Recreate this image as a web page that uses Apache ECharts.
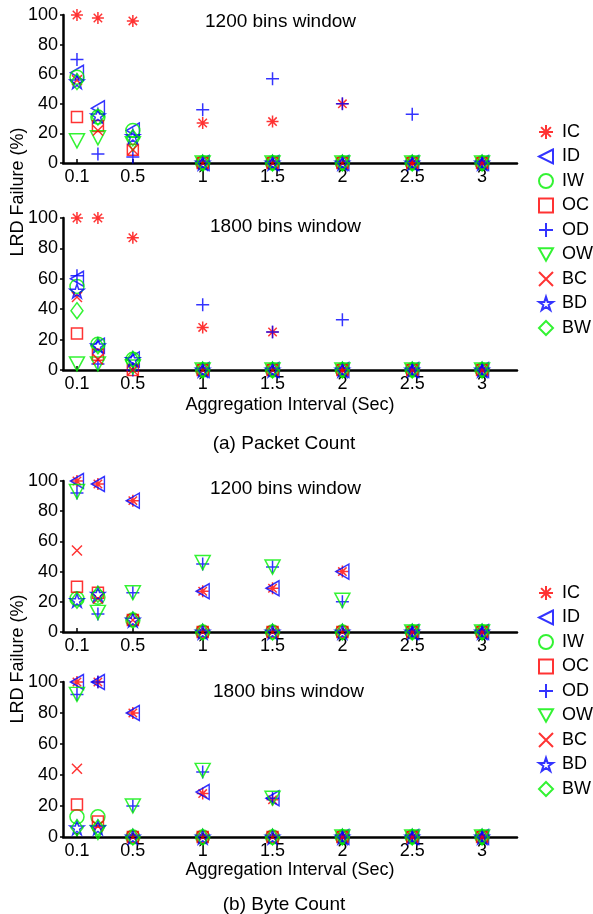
<!DOCTYPE html>
<html><head><meta charset="utf-8">
<script src="https://cdn.jsdelivr.net/npm/echarts@6/dist/echarts.min.js"></script>
<style>html,body{margin:0;padding:0;background:#fff}#c{width:593px;height:914px}</style>
</head><body><div id="c"></div>
<script>
// ---------- data ----------
const intervals = [0.1, 0.25, 0.5, 1, 1.5, 2, 2.5, 3];
const xTickValues = [0.1, 0.5, 1, 1.5, 2, 2.5, 3];
const seriesNames = ['IC','ID','IW','OC','OD','OW','BC','BD','BW'];
const panelTitles = ['1200 bins window','1800 bins window','1200 bins window','1800 bins window'];
const captions = ['(a) Packet Count','(b) Byte Count'];
const xTitle = 'Aggregation Interval (Sec)';
const yTitle = 'LRD Failure (%)';

// rows follow seriesNames order; columns follow intervals
const packet1200 = [
  [100, 98, 96, 27, 28, 40, 0, 0],   // IC
  [61, 37, 22, 0, 0, 0, 0, 0],       // ID
  [58, 31, 22, 0, 0, 0, 0, 0],       // IW
  [31, 25, 9, 0, 0, 0, 0, 0],        // OC
  [70, 6, 4, 36, 57, 40, 33, 0],     // OD
  [15, 17, 13, 0, 0, 0, 0, 0],       // OW
  [56, 22, 9, 0, 0, 0, 0, 0],        // BC
  [55, 32, 18, 0, 0, 0, 0, 0],       // BD
  [55, 31, 17, 0, 0, 0, 0, 0]        // BW
];
const packet1800 = [
  [100, 100, 87, 28, 25, 0, 0, 0],
  [60, 16, 7, 0, 0, 0, 0, 0],
  [55, 17, 7, 0, 0, 0, 0, 0],
  [24, 10, 0, 0, 0, 0, 0, 0],
  [62, 4, 0, 43, 25, 33, 0, 0],
  [4, 4, 2, 0, 0, 0, 0, 0],
  [48, 7, 0, 0, 0, 0, 0, 0],
  [52, 16, 7, 0, 0, 0, 0, 0],
  [39, 16, 7, 0, 0, 0, 0, 0]
];
const byte1200 = [
  [100, 98, 87, 27, 29, 40, 0, 0],
  [100, 98, 87, 27, 29, 40, 0, 0],
  [22, 23, 8, 0, 0, 0, 0, 0],
  [30, 26, 8, 0, 0, 0, 0, 0],
  [92, 12, 26, 45, 43, 20, 0, 0],
  [93, 13, 26, 46, 43, 21, 0, 0],
  [54, 22, 8, 0, 0, 0, 0, 0],
  [21, 25, 8, 0, 0, 0, 0, 0],
  [21, 25, 8, 0, 0, 0, 0, 0]
];
const byte1800 = [
  [100, 100, 80, 28, 24, 0, 0, 0],
  [100, 100, 80, 29, 25, 0, 0, 0],
  [13, 13, 0, 0, 0, 0, 0, 0],
  [21, 10, 0, 0, 0, 0, 0, 0],
  [92, 100, 20, 42, 25, 0, 0, 0],
  [92, 3, 20, 43, 25, 0, 0, 0],
  [44, 7, 0, 0, 0, 0, 0, 0],
  [6, 6, 0, 0, 0, 0, 0, 0],
  [6, 6, 0, 0, 0, 0, 0, 0]
];
const panels = [packet1200, packet1800, byte1200, byte1800];

// ---------- styles ----------
const FONT = '"Liberation Sans", Arial, Helvetica, sans-serif';
const RED = '#ff0000', BLUE = '#0000ff', GREEN = '#00f000';
const STAR = 'path://M50,0 L61.2,34.5 L97.6,34.5 L68.2,55.9 L79.4,90.5 L50,69.1 L20.6,90.5 L31.8,55.9 L2.4,34.5 L38.8,34.5 Z';
const styles = {
  IC: {c: RED,   s: 'path://M50,0 L50,100 M0,50 L100,50 M15,15 L85,85 M85,15 L15,85', z: 12},
  ID: {c: BLUE,  s: 'path://M100,0 L0,50 L100,100 Z', z: [13, 15]},
  IW: {c: GREEN, s: 'circle', z: 14},
  OC: {c: RED,   s: 'rect', z: 11},
  OD: {c: BLUE,  s: 'path://M50,0 L50,100 M0,50 L100,50', z: 13},
  OW: {c: GREEN, s: 'path://M0,0 L100,0 L50,90 Z', z: [15, 14]},
  BC: {c: RED,   s: 'path://M0,0 L100,100 M100,0 L0,100', z: 10},
  BD: {c: BLUE,  s: STAR, z: 14},
  BW: {c: GREEN, s: 'diamond', z: [12, 16]}
};

const grids = [
  {left: 63, width: 454, top: 15, height: 148},
  {left: 63, width: 454, top: 218, height: 152},
  {left: 63, width: 454, top: 481, height: 151},
  {left: 63, width: 454, top: 682, height: 155}
];

const xAxes = grids.map((g, i) => ({
  type: 'value', gridIndex: i, min: 0, max: 3.25,
  axisLine: {lineStyle: {color: '#000', width: 2.5}},
  axisTick: {show: true, inside: true, length: 4, customValues: xTickValues, lineStyle: {color: '#000', width: 1.5}},
  axisLabel: {customValues: xTickValues, color: '#000', fontSize: 18, fontFamily: FONT, margin: 5,
    formatter: v => String(v)},
  splitLine: {show: false}
}));
const yAxes = grids.map((g, i) => ({
  type: 'value', gridIndex: i, min: 0, max: 100, interval: 20,
  axisLine: {show: true, lineStyle: {color: '#000', width: 2.5}},
  axisTick: {show: true, inside: false, length: 3, lineStyle: {color: '#000', width: 1.5}},
  axisLabel: {color: '#000', fontSize: 18, fontFamily: FONT, margin: 5},
  splitLine: {show: false}
}));

const series = [];
panels.forEach((rows, p) => {
  rows.forEach((vals, k) => {
    const name = seriesNames[k];
    const st = styles[name];
    series.push({
      type: 'scatter', name: name, xAxisIndex: p, yAxisIndex: p,
      symbol: st.s, symbolSize: st.z, symbolKeepAspect: false,
      itemStyle: {color: 'rgba(0,0,0,0)', borderColor: st.c, borderWidth: 1.5},
      emphasis: {disabled: true},
      data: intervals.map((x, j) => [x, vals[j]])
    });
  });
});

const legendBase = {
  orient: 'vertical', left: 533, itemWidth: 14, itemHeight: 14, itemGap: 6.5,
  textStyle: {fontSize: 18, fontFamily: FONT, color: '#000', padding: [0, 0, 0, 4]},
  data: seriesNames, selectedMode: false
};

const titleText = (txt, x, y) => ({type: 'text', x: x, y: y,
  style: {text: txt, font: '19px ' + FONT, fill: '#000', textAlign: 'left', textVerticalAlign: 'middle'}});
const centerText = (txt, x, y, size) => ({type: 'text', x: x, y: y,
  style: {text: txt, font: size + 'px ' + FONT, fill: '#000', textAlign: 'center', textVerticalAlign: 'middle'}});
const vText = (txt, x, y) => ({type: 'text', x: x, y: y, rotation: Math.PI / 2,
  style: {text: txt, font: '18px ' + FONT, fill: '#000', textAlign: 'center', textVerticalAlign: 'middle'}});

const chart = echarts.init(document.getElementById('c'), null, {renderer: 'canvas'});
chart.setOption({
  animation: false,
  backgroundColor: '#fff',
  grid: grids,
  xAxis: xAxes,
  yAxis: yAxes,
  legend: [
    Object.assign({}, legendBase, {top: 118}),
    Object.assign({}, legendBase, {top: 579})
  ],
  graphic: [
    titleText(panelTitles[0], 205, 22),
    titleText(panelTitles[1], 210, 227),
    titleText(panelTitles[2], 210, 489),
    titleText(panelTitles[3], 213, 692),
    centerText(xTitle, 290, 405, 18),
    centerText(xTitle, 290, 870, 18),
    centerText(captions[0], 284, 444, 19),
    centerText(captions[1], 284, 905, 19),
    vText(yTitle, 18, 192),
    vText(yTitle, 18, 659)
  ],
  series: series
});
</script>
</body></html>
